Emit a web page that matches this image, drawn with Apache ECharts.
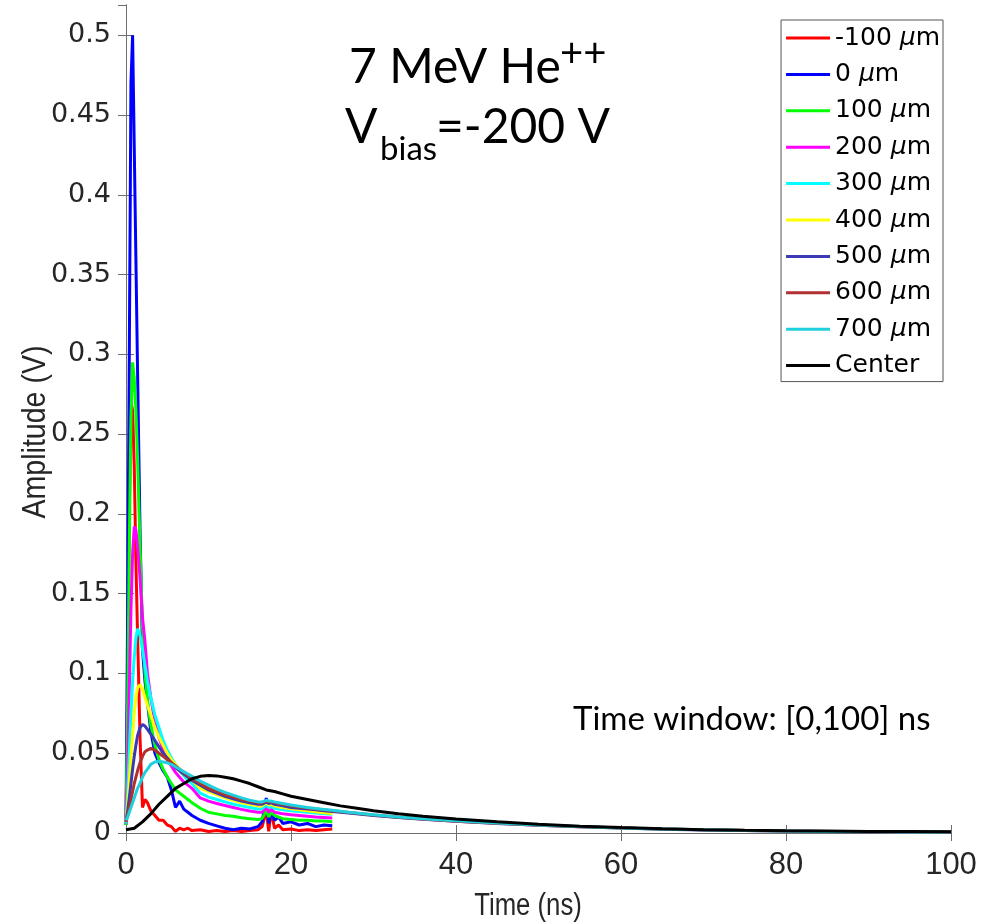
<!DOCTYPE html>
<html>
<head>
<meta charset="utf-8">
<script src="https://cdn.jsdelivr.net/npm/echarts@6/dist/echarts.min.js"></script>
<style>html,body{margin:0;padding:0;background:#fff}#c{width:991px;height:924px}</style>
</head>
<body>
<div id="c"></div>
<script>
// ---- data ----
const T = [0,0.2,0.4,0.6,0.8,1.0,1.2,1.4,1.7,2.0,2.3,2.6,3.0,3.5,4.0,4.5,5.0,5.5,6.0,6.5,7,7.5,8,9,10,11,12,13,14,15,16,16.5,17,17.3,17.6,18,18.5,19,20,21,22,23,24,25];
const S_M100 = [0.006,0.09,0.20,0.27,0.265,0.23,0.17,0.125,0.06,0.016,0.021,0.019,0.014,0.011,0.008,0.008,0.005,0.004,0.001,0.003,0.002,0.003,0.0015,0.002,0.001,0.0015,0.001,0.0015,0.001,0.0015,0.002,0.004,0.014,0.001,0.014,0.003,0.005,0.002,0.0025,0.0015,0.002,0.0015,0.002,0.0025];
const S_0 = [0.005,0.14,0.30,0.47,0.50,0.43,0.36,0.29,0.19,0.115,0.095,0.082,0.064,0.05,0.044,0.039,0.035,0.027,0.016,0.02,0.015,0.013,0.011,0.008,0.006,0.0045,0.003,0.002,0.003,0.0025,0.004,0.007,0.022,0.006,0.013,0.008,0.01,0.006,0.007,0.005,0.006,0.004,0.005,0.0045];
const S_100 = [0.005,0.08,0.18,0.26,0.295,0.285,0.265,0.235,0.18,0.13,0.10,0.083,0.068,0.055,0.046,0.04,0.035,0.031,0.027,0.025,0.023,0.021,0.019,0.0155,0.013,0.012,0.011,0.0105,0.0095,0.009,0.0085,0.009,0.014,0.010,0.013,0.011,0.010,0.009,0.0085,0.008,0.008,0.0075,0.0075,0.007];
const S_200 = [0.006,0.04,0.09,0.14,0.175,0.192,0.19,0.18,0.16,0.135,0.12,0.10,0.085,0.07,0.06,0.052,0.046,0.042,0.038,0.035,0.032,0.03,0.028,0.022,0.02,0.0185,0.0172,0.016,0.0148,0.0138,0.013,0.013,0.016,0.013,0.015,0.013,0.0125,0.012,0.0115,0.011,0.0105,0.01,0.0097,0.0094];
const S_300 = [0.006,0.025,0.05,0.075,0.095,0.11,0.122,0.128,0.124,0.115,0.105,0.095,0.085,0.074,0.066,0.058,0.052,0.047,0.043,0.039,0.036,0.033,0.031,0.025,0.0225,0.021,0.0195,0.018,0.017,0.016,0.015,0.0152,0.0175,0.016,0.0165,0.0155,0.015,0.0145,0.014,0.0135,0.013,0.0125,0.012,0.0118];
const S_400 = [0.007,0.018,0.032,0.048,0.062,0.075,0.085,0.091,0.093,0.09,0.085,0.08,0.074,0.066,0.06,0.055,0.05,0.046,0.043,0.04,0.037,0.035,0.033,0.028,0.026,0.024,0.022,0.0205,0.019,0.018,0.017,0.017,0.019,0.0175,0.018,0.017,0.0165,0.016,0.0152,0.0145,0.014,0.0133,0.0127,0.0122];
const S_500 = [0.007,0.014,0.022,0.031,0.04,0.048,0.055,0.061,0.066,0.068,0.067,0.065,0.062,0.058,0.054,0.05,0.047,0.044,0.041,0.039,0.037,0.035,0.033,0.03,0.027,0.025,0.023,0.0215,0.02,0.019,0.018,0.018,0.0195,0.0185,0.019,0.018,0.0175,0.017,0.016,0.0155,0.015,0.0145,0.014,0.0135];
const S_600 = [0.007,0.011,0.016,0.021,0.026,0.031,0.035,0.039,0.044,0.048,0.051,0.052,0.053,0.052,0.05,0.048,0.046,0.044,0.042,0.04,0.038,0.036,0.034,0.031,0.028,0.026,0.024,0.0225,0.021,0.02,0.019,0.019,0.02,0.0195,0.0198,0.019,0.0185,0.018,0.017,0.0163,0.0156,0.015,0.0145,0.014];
const S_700 = [0.008,0.01,0.013,0.016,0.019,0.022,0.025,0.028,0.031,0.035,0.038,0.04,0.043,0.0445,0.045,0.0445,0.044,0.043,0.0415,0.04,0.0385,0.037,0.0355,0.0325,0.03,0.0275,0.0255,0.0237,0.022,0.0205,0.0195,0.0195,0.0205,0.02,0.02,0.0195,0.019,0.0185,0.0175,0.0168,0.016,0.0154,0.0148,0.0142];
const T_TAIL = [27,30,33,36,40,45,50,55,60,65,70,75,80,85,90,95,100];
const S_500_TAIL = [0.0125,0.011,0.0097,0.0086,0.0073,0.006,0.0048,0.0039,0.0031,0.0024,0.0019,0.0015,0.0012,0.001,0.0008,0.0007,0.0006];
const S_600_TAIL = [0.0128,0.0113,0.0099,0.0088,0.0074,0.0061,0.0049,0.0039,0.0031,0.0025,0.002,0.0016,0.0013,0.001,0.0009,0.0007,0.0006];
const S_700_TAIL = [0.013,0.0115,0.0101,0.009,0.0076,0.0062,0.005,0.004,0.0032,0.0025,0.002,0.0016,0.0013,0.001,0.0009,0.0007,0.0006];
const T_CENTER = [0,1,2,3,4,5,6,7,8,9,10,11,12,13,14,15,16,17,18,19,20,22,24,26,28,30,33,36,40,45,50,55,60,65,70,75,80,85,90,95,100];
const S_CENTER = [0.002,0.003,0.007,0.012,0.018,0.023,0.028,0.031,0.034,0.0355,0.036,0.0358,0.035,0.034,0.0325,0.031,0.029,0.027,0.026,0.0245,0.023,0.021,0.019,0.017,0.0155,0.014,0.012,0.0105,0.0088,0.007,0.0055,0.0043,0.0034,0.0027,0.0021,0.0017,0.0014,0.0012,0.001,0.0009,0.0008];

const NAMES = ['-100 μm','0 μm','100 μm','200 μm','300 μm','400 μm','500 μm','600 μm','700 μm','Center'];
const COLORS = ['#ff0000','#0000ff','#00ff00','#ff00ff','#00ffff','#ffff00','#3a3ab5','#b03030','#1fd0dc','#000000'];
const X_TICKS = [0,20,40,60,80,100];
const Y_TICK_STEP = 0.05;

function zip(t, v){ return t.map((x,i)=>[x, v[i]]); }
const DATA = [
  zip(T,S_M100), zip(T,S_0), zip(T,S_100), zip(T,S_200), zip(T,S_300),
  zip(T,S_400),
  zip(T,S_500).concat(zip(T_TAIL,S_500_TAIL)),
  zip(T,S_600).concat(zip(T_TAIL,S_600_TAIL)),
  zip(T,S_700).concat(zip(T_TAIL,S_700_TAIL)),
  zip(T_CENTER,S_CENTER)
];

const chart = echarts.init(document.getElementById('c'), null, {renderer:'canvas'});
const axisGray = '#6e6e6e';
const labelColor = '#262626';

const option = {
  backgroundColor:'#ffffff',
  animation:false,
  grid: {left:126, right:40, top:5, bottom:91},
  xAxis: [{
    type:'value', min:X_TICKS[0], max:X_TICKS[X_TICKS.length-1], interval:20,
    axisLine:{show:true, lineStyle:{color:axisGray, width:1}},
    axisTick:{show:true, inside:true, length:8, lineStyle:{color:axisGray}},
    axisLabel:{color:labelColor, fontFamily:'Liberation Sans', fontSize:31, margin:17},
    splitLine:{show:false}
  },{
    type:'value', position:'top', min:0, max:100, interval:20,
    axisLine:{show:true, lineStyle:{color:axisGray, width:1}},
    axisTick:{show:true, inside:true, length:8, lineStyle:{color:axisGray}},
    axisLabel:{show:false}, splitLine:{show:false}
  }],
  yAxis: [{
    type:'value', min:0, max:0.519, interval:Y_TICK_STEP,
    axisLine:{show:true, lineStyle:{color:axisGray, width:1}},
    axisTick:{show:true, inside:true, length:8, lineStyle:{color:axisGray}},
    axisLabel:{color:labelColor, fontFamily:'DejaVu Sans', fontSize:27, margin:15, showMaxLabel:false,
      formatter: v => (Math.abs(v/Y_TICK_STEP - Math.round(v/Y_TICK_STEP))<1e-6) ? String(+v.toFixed(2)) : ''},
    splitLine:{show:false}
  },{
    type:'value', position:'right', min:0, max:0.519, interval:Y_TICK_STEP,
    axisLine:{show:true, lineStyle:{color:axisGray, width:1}},
    axisTick:{show:true, inside:true, length:8, lineStyle:{color:axisGray}},
    axisLabel:{show:false}, splitLine:{show:false}
  }],
  legend: {
    orient:'vertical', right:48, top:20,
    backgroundColor:'#ffffff', borderColor:'#555555', borderWidth:1,
    padding:[5,3,3,5], itemGap:10.4, itemWidth:44, itemHeight:3, icon:'rect',
    data: NAMES,
    formatter: n => n.replace('μ','{mu|μ}'),
    textStyle:{color:'#000', fontFamily:'DejaVu Sans', fontSize:25, lineHeight:26,
      rich:{mu:{fontStyle:'italic', fontFamily:'DejaVu Sans', fontSize:25, lineHeight:26, color:'#000'}}}
  },
  graphic: [
    {type:'text', x:36, y:432, rotation:Math.PI/2, scaleX:0.84, style:{text:'Amplitude (V)', fill:labelColor, font:'34px "Liberation Sans"', textAlign:'center', textVerticalAlign:'middle'}},
    {type:'text', x:528, y:906, scaleX:0.83, style:{text:'Time (ns)', fill:labelColor, font:'31px "Liberation Sans"', textAlign:'center', textVerticalAlign:'middle'}},
    {type:'text', x:349, y:44, style:{text:'7 MeV He', fill:'#000', font:'48px Lato', textAlign:'left', textVerticalAlign:'top'}},
    {type:'text', x:560, y:34, style:{text:'++', fill:'#000', font:'40px Lato', textAlign:'left', textVerticalAlign:'top'}},
    {type:'text', x:345, y:104, style:{text:'V', fill:'#000', font:'48px Lato', textAlign:'left', textVerticalAlign:'top'}},
    {type:'text', x:380, y:133, style:{text:'bias', fill:'#000', font:'33px Lato', textAlign:'left', textVerticalAlign:'top'}},
    {type:'text', x:436, y:104, style:{text:'=-200 V', fill:'#000', font:'48px Lato', textAlign:'left', textVerticalAlign:'top'}},
    {type:'text', x:573, y:703, style:{text:'Time window: [0,100] ns', fill:'#000', font:'33px Lato', textAlign:'left', textVerticalAlign:'top'}}
  ],
  series: NAMES.map((n,i)=>({
    name:n, type:'line', xAxisIndex:0, yAxisIndex:0,
    data: DATA[i], showSymbol:false, symbol:'none', smooth:false,
    lineStyle:{color:COLORS[i], width:3}, itemStyle:{color:COLORS[i]},
    z: 2+i, clip:true
  }))
};
chart.setOption(option);
</script>
</body>
</html>
